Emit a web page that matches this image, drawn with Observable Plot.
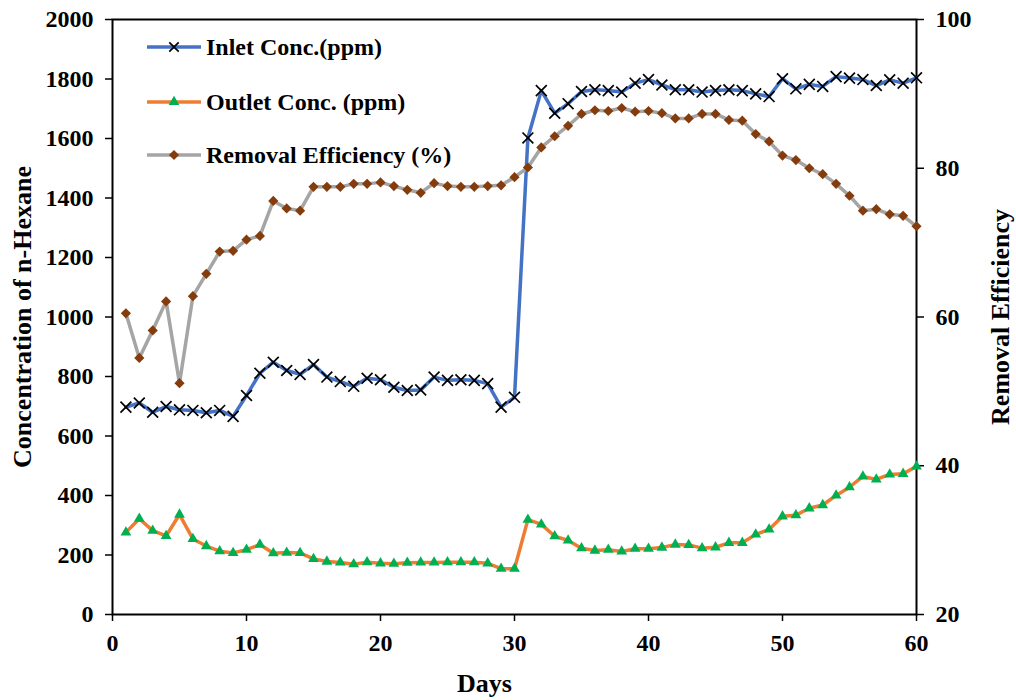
<!DOCTYPE html>
<html>
<head>
<meta charset="utf-8">
<script src="https://cdn.jsdelivr.net/npm/d3@7"></script>
<script src="https://cdn.jsdelivr.net/npm/@observablehq/plot@0.6"></script>
<style>
  body { margin: 0; background: #fff; }
  #wrap { position: relative; width: 1016px; height: 700px; }
  .lg-row { position: absolute; left: 146px; height: 30px; display: flex; align-items: center;
            font-family: 'Liberation Serif', 'Times New Roman', serif; font-weight: bold; font-size: 24px; color: #000; white-space: nowrap; }
  .lg-row svg { display: block; margin-right: 4px; }
</style>
</head>
<body>
<div id="wrap"></div>
<script>
const days = d3.range(1, 61);
const inlet = [697,711,680,699,688,686,678,686,666,736,811,848,820,807,840,798,783,767,794,789,764,753,755,798,787,789,787,776,697,730,
               1602,1761,1685,1717,1758,1764,1761,1756,1786,1798,1780,1764,1764,1756,1761,1764,1761,1750,1741,1801,1767,1782,1775,1808,1803,1798,1778,1797,1786,1804];
const outlet = [276,322,282,264,336,254,230,213,207,218,235,206,208,207,187,178,175,169,176,172,171,174,175,175,176,176,176,172,154,154,
                319,303,263,249,223,215,218,212,221,221,225,235,234,223,226,241,241,269,286,330,334,357,368,400,428,464,454,471,473,498];
const removal = [60.5,54.5,58.2,62.1,51.1,62.8,65.8,68.8,68.9,70.4,70.9,75.6,74.6,74.3,77.5,77.5,77.5,77.9,77.9,78.1,77.6,77.1,76.7,78.0,77.6,77.5,77.5,77.6,77.7,78.8,
                 80.1,82.8,84.3,85.7,87.3,87.8,87.7,88.1,87.6,87.7,87.4,86.7,86.7,87.3,87.3,86.5,86.4,84.6,83.6,81.7,81.1,80.0,79.2,77.9,76.3,74.3,74.5,73.8,73.6,72.2];
const xTicks = [0,10,20,30,40,50,60];
const yTicks = [0,200,400,600,800,1000,1200,1400,1600,1800,2000];
const effTicks = [20,40,60,80,100];
const seriesNames = ["Inlet Conc.(ppm)", "Outlet Conc. (ppm)", "Removal Efficiency (%)"];

// map secondary axis (20..100) onto primary (0..2000)
const effMin = 20, effMax = 100, yMax = 2000;
const toLeft = v => (v - effMin) / (effMax - effMin) * yMax;
const fromLeft = v => v / yMax * (effMax - effMin) + effMin;

const data = days.map((d, i) => ({day: d, inlet: inlet[i], outlet: outlet[i], eff: toLeft(removal[i])}));

const C = {inlet: "#4472C4", outlet: "#ED7D31", eff: "#A5A5A5", tri: "#00B050", dia: "#843C0C"};
const font = "'Liberation Serif', 'Times New Roman', serif";

const chart = Plot.plot({
  width: 1016, height: 700,
  marginLeft: 112, marginRight: 100, marginTop: 19, marginBottom: 86,
  x: {domain: [0, 60]},
  y: {domain: [0, yMax]},
  style: {fontFamily: font, fontWeight: "bold", fontSize: "24px", color: "#000", background: "#fff"},
  marks: [
    Plot.axisX(xTicks, {tickSize: 7, tickPadding: 12, fontSize: 24, fontWeight: "bold", strokeWidth: 1.5, label: null, tickFormat: d => String(d)}),
    Plot.axisY(yTicks, {anchor: "left", tickSize: 7, tickPadding: 12, fontSize: 24, fontWeight: "bold", strokeWidth: 1.5, label: null, tickFormat: d => String(d)}),
    Plot.axisY(effTicks.map(toLeft), {anchor: "right", tickSize: 7, tickPadding: 12, fontSize: 24, fontWeight: "bold", strokeWidth: 1.5, label: null, tickFormat: d => String(fromLeft(d))}),
    Plot.frame({stroke: "#000", strokeWidth: 2}),
    Plot.line(data, {x: "day", y: "inlet", stroke: C.inlet, strokeWidth: 3.5}),
    Plot.dot(data, {x: "day", y: "inlet", symbol: "times", stroke: "#000", strokeWidth: 1.7, r: 5}),
    Plot.line(data, {x: "day", y: "outlet", stroke: C.outlet, strokeWidth: 3.5}),
    Plot.dot(data, {x: "day", y: "outlet", symbol: "triangle", fill: C.tri, stroke: "none", r: 4}),
    Plot.line(data, {x: "day", y: "eff", stroke: C.eff, strokeWidth: 3.5}),
    Plot.dot(data, {x: "day", y: "eff", symbol: "diamond2", fill: C.dia, stroke: "none", r: 4.6}),
    Plot.text(["Concentration of n-Hexane"], {text: d => d, frameAnchor: "left", rotate: -90, dx: -90, fontSize: 26, fontWeight: "bold", textAnchor: "middle", lineAnchor: "middle"}),
    Plot.text(["Removal Efficiency"], {text: d => d, frameAnchor: "right", rotate: -90, dx: 84, fontSize: 26, fontWeight: "bold", textAnchor: "middle", lineAnchor: "middle"}),
    Plot.text(["Days"], {text: d => d, frameAnchor: "bottom", dx: -30, dy: 69, fontSize: 26, fontWeight: "bold", textAnchor: "middle", lineAnchor: "middle"})
  ]
});

const wrap = document.getElementById("wrap");
wrap.appendChild(chart);

// legend overlay
const legendItems = [
  {name: seriesNames[0], line: C.inlet, sym: d3.symbolTimes, size: 60, fill: "none", stroke: "#000", top: 32},
  {name: seriesNames[1], line: C.outlet, sym: d3.symbolTriangle, size: 50, fill: C.tri, stroke: "none", top: 87},
  {name: seriesNames[2], line: C.eff, sym: d3.symbolDiamond2, size: 66, fill: C.dia, stroke: "none", top: 140}
];
legendItems.forEach(it => {
  const row = document.createElement("div");
  row.className = "lg-row";
  row.style.top = it.top + "px";
  const svg = d3.create("svg").attr("width", 56).attr("height", 20);
  svg.append("line").attr("x1", 1).attr("x2", 55).attr("y1", 10).attr("y2", 10)
     .attr("stroke", it.line).attr("stroke-width", 3.5);
  svg.append("path").attr("transform", "translate(28,10)")
     .attr("d", d3.symbol(it.sym, it.size)())
     .attr("fill", it.fill).attr("stroke", it.stroke).attr("stroke-width", 1.7);
  row.appendChild(svg.node());
  const span = document.createElement("span");
  span.textContent = it.name;
  row.appendChild(span);
  wrap.appendChild(row);
});
</script>
</body>
</html>
